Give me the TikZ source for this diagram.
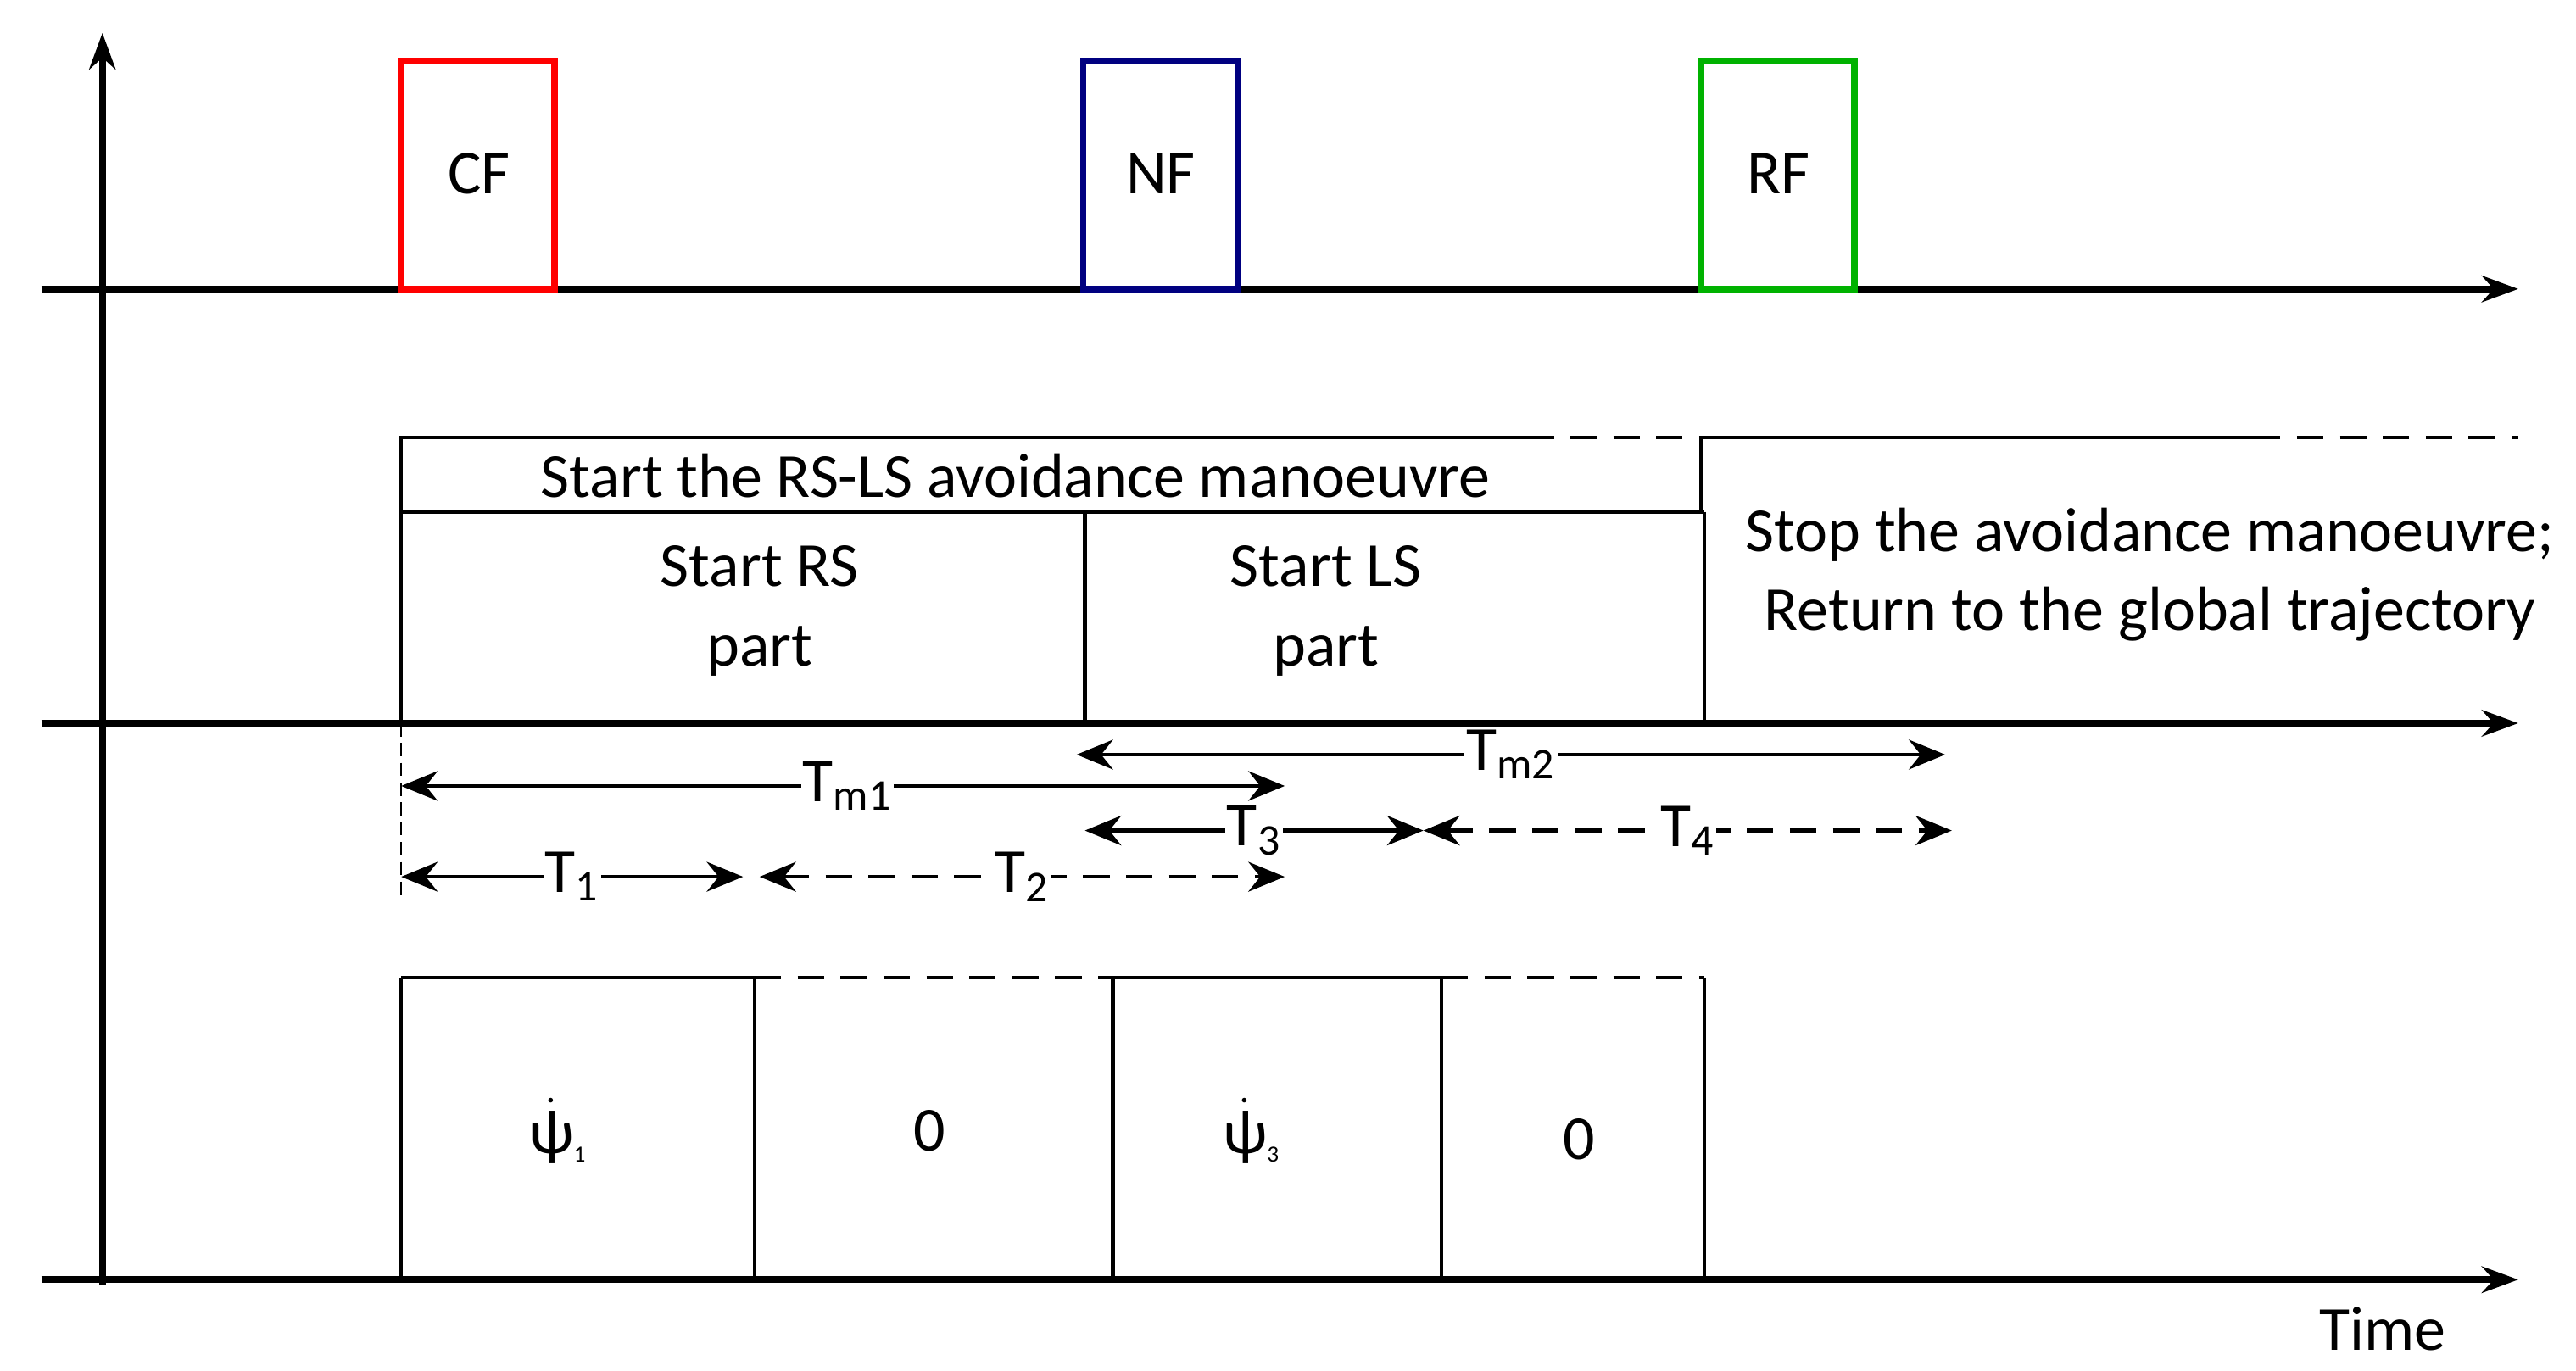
\documentclass[tikz,border=0pt]{standalone}
\usepackage{amsmath}
\usepackage{fontspec}
\setmainfont{Carlito}
\usetikzlibrary{arrows.meta}
\begin{document}
\begin{tikzpicture}[x=0.5pt,y=-0.5pt,
  ax/.style={line width=2pt,-{Stealth[length=11pt,width=8pt]}},
  ln/.style={line width=1.1pt},
  dim/.style={line width=1.2pt,{Stealth[length=11pt,width=9pt]}-{Stealth[length=11pt,width=9pt]}},
  dsh/.style={dash pattern=on 8pt off 5pt},
  lab/.style={fill=white,inner sep=0.5pt,font=\fontsize{19}{21}\selectfont},
  txt/.style={font=\fontsize{19}{23}\selectfont,align=center},
  box/.style={line width=2pt}]
\useasboundingbox (0,0) rectangle (1560,830);
% axes
\coordinate (o) at (62,778); \coordinate (yt) at (62,20);
\draw[ax] (o) -- (yt);
\foreach \n/\y in {a/175,b/438,c/775}{
  \coordinate (\n0) at (25,\y); \coordinate (\n1) at (1525,\y);
  \draw[ax] (\n0) -- (\n1);}
% frames
\draw[box,red] (243,175) rectangle (336,37);
\node[txt] (cf) at (290,105) {CF};
\draw[box,blue!50!black] (656,175) rectangle (750,37);
\node[txt] (nf) at (703,105) {NF};
\draw[box,green!70!black] (1030,175) rectangle (1123,37);
\node[txt] (rf) at (1077,105) {RF};
% band
\draw[ln] (243,438) -- (243,265) -- (925,265);
\draw[ln,dsh] (925,265) -- (1030,265);
\draw[ln] (1030,310) -- (1030,265) -- (1365,265);
\draw[ln,dsh] (1365,265) -- (1525,265);
\draw[ln] (243,310) -- (1032,310);
\draw[ln] (657,310) -- (657,438);
\draw[ln] (1032,310) -- (1032,438);
\node[txt] (s1) at (615,288) {Start the RS-LS avoidance manoeuvre};
\node[txt] (s2) at (460,370) {Start RS\\[1pt]part};
\node[txt] (s3) at (803,370) {Start LS\\[1pt]part};
\node[txt] (s4) at (1302,348) {Stop the avoidance manoeuvre;\\[1pt]Return to the global trajectory};
% dimension arrows
\draw[dash pattern=on 4pt off 2pt,line width=0.4pt] (243,438) -- (243,542);
\coordinate (m1a) at (243,476); \coordinate (m1b) at (778,476);
\draw[dim] (m1a) -- (m1b) node[lab,pos=0.505] {T\textsubscript{m1}};
\coordinate (m2a) at (652,457); \coordinate (m2b) at (1178,457);
\draw[dim] (m2a) -- (m2b) node[lab,pos=0.5] {T\textsubscript{m2}};
\coordinate (t3a) at (657,503); \coordinate (t3b) at (862,503);
\draw[dim] (t3a) -- (t3b) node[lab,pos=0.5] {T\textsubscript{3}};
\coordinate (t4a) at (862,503); \coordinate (t4b) at (1182,503);
\draw[dim,dsh] (t4a) -- (t4b) node[lab,pos=0.5] {T\textsubscript{4}};
\coordinate (t1a) at (243,531); \coordinate (t1b) at (450,531);
\draw[dim] (t1a) -- (t1b) node[lab,pos=0.5] {T\textsubscript{1}};
\coordinate (t2a) at (460,531); \coordinate (t2b) at (778,531);
\draw[dim,dsh] (t2a) -- (t2b) node[lab,pos=0.5] {T\textsubscript{2}};
% bottom
\draw[ln] (243,592) -- (457,592);
\draw[ln,dsh] (457,592) -- (674,592);
\draw[ln] (674,592) -- (873,592);
\draw[ln,dsh] (873,592) -- (1032,592);
\foreach \x in {243,457,674,873,1032} \draw[ln] (\x,592) -- (\x,775);
\node[txt] (p1) at (338,685) {$\dot{\text{ψ}}$\textsubscript{\scriptsize 1}};
\node[txt] (z1) at (563,685) {0};
\node[txt] (p3) at (758,685) {$\dot{\text{ψ}}$\textsubscript{\scriptsize 3}};
\node[txt] (z2) at (956,690) {0};
\node[txt] (time) at (1443,805) {Time};
\end{tikzpicture}
\end{document}
